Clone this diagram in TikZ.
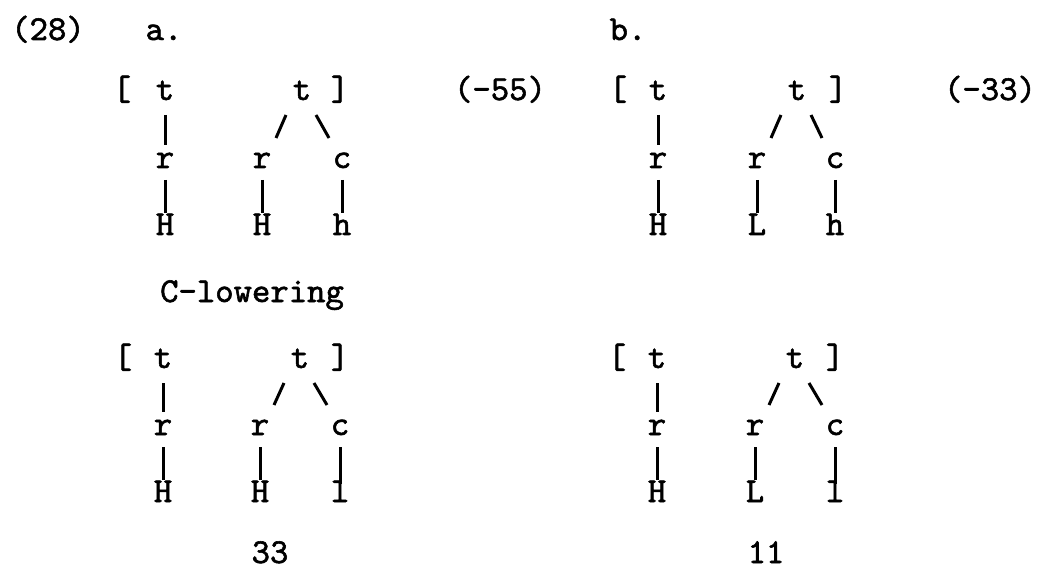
\documentclass[tikz,border=0pt]{standalone}
\usepackage{fontspec}
\newfontfamily\twfont{lmmono10-regular.otf}[FakeBold=1.6]
\usetikzlibrary{calc}
\begin{document}
\begin{tikzpicture}[x=1pt,y=-1pt,
  tw/.style={font=\twfont\fontsize{35}{35}\selectfont, inner sep=0pt, anchor=base},
  edge/.style={line width=3pt}]
\useasboundingbox (0,0) rectangle (1044,569);
% headings
\node[tw] (ex) at (48,40) {(28)};
\node[tw] (la) at (164,40) {a.};
\node[tw] (lb) at (628,40) {b.};
\node[tw] (va) at (500,100) {(-55)};
\node[tw] (vb) at (990,100) {(-33)};
\node[tw] (rule) at (252,302) {C-lowering};
\node[tw] (ra) at (270,563) {33};
\node[tw] (rb) at (766,563) {11};
% upper a
\node[tw] (ua-lb) at (122,100) {[};
\node[tw] (ua-t1) at (165,100) {t};
\node[tw] (ua-t2) at (302,100) {t};
\node[tw] (ua-rb) at (340,100) {]};
\node[tw] (ua-r1) at (165,168) {r};
\node[tw] (ua-r2) at (262,168) {r};
\node[tw] (ua-c)  at (342,168) {c};
\node[tw] (ua-x1) at (165,235) {H};
\node[tw] (ua-x2) at (262,235) {H};
\node[tw] (ua-x3) at (342,235) {h};
% upper b
\node[tw] (ub-lb) at (618,100) {[};
\node[tw] (ub-t1) at (658,100) {t};
\node[tw] (ub-t2) at (797,100) {t};
\node[tw] (ub-rb) at (838,100) {]};
\node[tw] (ub-r1) at (658,168) {r};
\node[tw] (ub-r2) at (757,168) {r};
\node[tw] (ub-c)  at (835,168) {c};
\node[tw] (ub-x1) at (658,235) {H};
\node[tw] (ub-x2) at (757,235) {L};
\node[tw] (ub-x3) at (835,235) {h};
% lower a
\node[tw] (la-lb) at (123,368) {[};
\node[tw] (la-t1) at (163,368) {t};
\node[tw] (la-t2) at (300,368) {t};
\node[tw] (la-rb) at (340,368) {]};
\node[tw] (la-r1) at (163,435) {r};
\node[tw] (la-r2) at (260,435) {r};
\node[tw] (la-c)  at (340,435) {c};
\node[tw] (la-x1) at (163,502) {H};
\node[tw] (la-x2) at (260,502) {H};
\node[tw] (la-x3) at (340,502) {l};
% lower b
\node[tw] (lb-lb) at (617,368) {[};
\node[tw] (lb-t1) at (657,368) {t};
\node[tw] (lb-t2) at (795,368) {t};
\node[tw] (lb-rb) at (835,368) {]};
\node[tw] (lb-r1) at (657,435) {r};
\node[tw] (lb-r2) at (755,435) {r};
\node[tw] (lb-c)  at (835,435) {c};
\node[tw] (lb-x1) at (657,502) {H};
\node[tw] (lb-x2) at (755,502) {L};
\node[tw] (lb-x3) at (835,502) {l};
% connectors
\foreach \p in {ua,ub,la,lb}{
  \draw[edge] ($(\p-t1.base)+(0,15)$) -- ($(\p-r1.base)+(0,-23)$);
  \draw[edge] ($(\p-t2.base)+(-16,15)$) -- ($(\p-r2.base)+(14,-30)$);
  \draw[edge] ($(\p-t2.base)+(14,15)$) -- ($(\p-c.base)+(-13,-30)$);
  \draw[edge] ($(\p-r1.base)+(0,12)$) -- ($(\p-x1.base)+(0,-22)$);
  \draw[edge] ($(\p-r2.base)+(0,12)$) -- ($(\p-x2.base)+(0,-22)$);
}
\draw[edge] ($(ua-c.base)+(0,12)$) -- ($(ua-x3.base)+(0,-22)$);
\draw[edge] ($(ub-c.base)+(0,12)$) -- ($(ub-x3.base)+(0,-22)$);
\draw[edge] ($(la-c.base)+(0,12)$) -- ($(la-x3.base)+(0,-18)$);
\draw[edge] ($(lb-c.base)+(0,12)$) -- ($(lb-x3.base)+(0,-18)$);
\end{tikzpicture}
\end{document}
